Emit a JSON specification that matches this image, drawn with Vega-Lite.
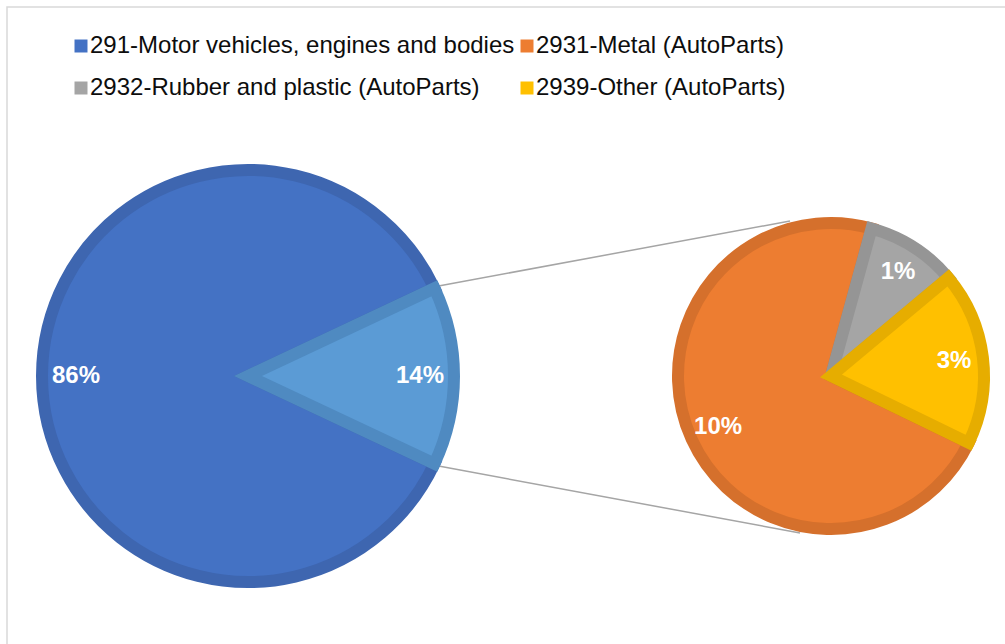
{
  "$schema": "https://vega.github.io/schema/vega-lite/v6.json",
  "width": 1000,
  "height": 639,
  "autosize": {"type": "none"},
  "padding": {"left": 7, "top": 7, "right": -2, "bottom": -2},
  "background": "white",
  "config": {
    "view": {"stroke": "#D9D9D9", "strokeWidth": 1.5},
    "font": "Liberation Sans"
  },
  "datasets": {
    "main": [
      {"category": "291-Motor vehicles, engines and bodies", "share": 0.86},
      {"category": "AutoParts (293)", "share": 0.14}
    ],
    "auto": [
      {"category": "2931-Metal (AutoParts)", "share": 0.1009},
      {"category": "2932-Rubber and plastic (AutoParts)", "share": 0.0135},
      {"category": "2939-Other (AutoParts)", "share": 0.0256}
    ]
  },
  "resolve": {"scale": {"theta": "independent"}},
  "layer": [
    {
      "data": {"values": [{}]},
      "mark": {"type": "rule", "color": "#A5A5A5", "strokeWidth": 1.5},
      "encoding": {
        "x": {"datum": 432.9, "type": "quantitative", "scale": {"domain": [0, 1000], "nice": false, "zero": false}, "axis": null},
        "y": {"datum": 278.7, "type": "quantitative", "scale": {"domain": [0, 639], "nice": false, "zero": false, "reverse": true}, "axis": null},
        "x2": {"datum": 783},
        "y2": {"datum": 214}
      }
    },
    {
      "data": {"values": [{}]},
      "mark": {"type": "rule", "color": "#A5A5A5", "strokeWidth": 1.5},
      "encoding": {
        "x": {"datum": 432.9, "type": "quantitative", "scale": {"domain": [0, 1000], "nice": false, "zero": false}, "axis": null},
        "y": {"datum": 459.3, "type": "quantitative", "scale": {"domain": [0, 639], "nice": false, "zero": false, "reverse": true}, "axis": null},
        "x2": {"datum": 793},
        "y2": {"datum": 526}
      }
    },
    {
      "data": {"name": "main"},
      "layer": [
        {
          "mark": {"type": "arc", "outerRadius": 206, "strokeWidth": 12, "strokeJoin": "miter", "strokeMiterLimit": 3},
          "encoding": {
            "x": {"datum": 241, "type": "quantitative", "scale": {"domain": [0, 1000], "nice": false, "zero": false}, "axis": null},
            "y": {"datum": 369, "type": "quantitative", "scale": {"domain": [0, 639], "nice": false, "zero": false, "reverse": true}, "axis": null},
            "theta": {"field": "share", "type": "quantitative", "stack": true, "scale": {"domain": [0, 1], "range": [2.01062, 8.29381]}},
            "order": {"field": "category", "sort": "ascending"},
            "color": {
              "field": "category", "type": "nominal",
              "scale": {
                "domain": ["291-Motor vehicles, engines and bodies", "2931-Metal (AutoParts)", "2932-Rubber and plastic (AutoParts)", "2939-Other (AutoParts)", "AutoParts (293)"],
                "range": ["#4472C4", "#ED7D31", "#A5A5A5", "#FFC000", "#5B9BD5"]
              },
              "legend": {
                "values": ["291-Motor vehicles, engines and bodies", "2931-Metal (AutoParts)", "2932-Rubber and plastic (AutoParts)", "2939-Other (AutoParts)"],
                "title": null,
                "orient": "none",
                "legendX": 62,
                "legendY": 27,
                "columns": 2,
                "direction": "horizontal",
                "symbolType": "square",
                "symbolSize": 169,
                "symbolStrokeWidth": 0,
                "labelFont": "Liberation Sans",
                "labelFontSize": 24,
                "labelColor": "#0D0D0D",
                "labelLimit": 1000,
                "labelOffset": -3,
                "columnPadding": 0,
                "rowPadding": 18
              }
            },
            "stroke": {
              "field": "category", "type": "nominal",
              "scale": {
                "domain": ["291-Motor vehicles, engines and bodies", "2931-Metal (AutoParts)", "2932-Rubber and plastic (AutoParts)", "2939-Other (AutoParts)", "AutoParts (293)"],
                "range": ["#3E66B0", "#D5702C", "#959595", "#E6AD00", "#4F8AC1"]
              },
              "legend": null
            }
          }
        },
        {
          "mark": {"type": "text", "radius": 172, "fontSize": 24, "fontWeight": "bold", "fill": "white", "align": "center", "baseline": "middle"},
          "encoding": {
            "x": {"datum": 241, "type": "quantitative", "scale": {"domain": [0, 1000], "nice": false, "zero": false}, "axis": null},
            "y": {"datum": 369, "type": "quantitative", "scale": {"domain": [0, 639], "nice": false, "zero": false, "reverse": true}, "axis": null},
            "theta": {"field": "share", "type": "quantitative", "stack": true, "scale": {"domain": [0, 1], "range": [2.01062, 8.29381]}},
            "order": {"field": "category", "sort": "ascending"},
            "detail": {"field": "category", "type": "nominal"},
            "text": {"field": "share", "type": "quantitative", "format": ".0%"}
          }
        }
      ]
    },
    {
      "data": {"name": "auto"},
      "layer": [
        {
          "mark": {"type": "arc", "outerRadius": 153, "strokeWidth": 12, "strokeJoin": "miter", "strokeMiterLimit": 3},
          "encoding": {
            "x": {"datum": 824, "type": "quantitative", "scale": {"domain": [0, 1000], "nice": false, "zero": false}, "axis": null},
            "y": {"datum": 369, "type": "quantitative", "scale": {"domain": [0, 639], "nice": false, "zero": false, "reverse": true}, "axis": null},
            "theta": {"field": "share", "type": "quantitative", "stack": true, "scale": {"domain": [0, 0.14], "range": [2.02284, 8.30603]}},
            "order": {"field": "category", "sort": "ascending"},
            "color": {"field": "category", "type": "nominal"},
            "stroke": {"field": "category", "type": "nominal", "legend": null}
          }
        },
        {
          "mark": {"type": "text", "radius": 124, "fontSize": 24, "fontWeight": "bold", "fill": "white", "align": "center", "baseline": "middle"},
          "encoding": {
            "x": {"datum": 824, "type": "quantitative", "scale": {"domain": [0, 1000], "nice": false, "zero": false}, "axis": null},
            "y": {"datum": 369, "type": "quantitative", "scale": {"domain": [0, 639], "nice": false, "zero": false, "reverse": true}, "axis": null},
            "theta": {"field": "share", "type": "quantitative", "stack": true, "scale": {"domain": [0, 0.14], "range": [2.02284, 8.30603]}},
            "order": {"field": "category", "sort": "ascending"},
            "detail": {"field": "category", "type": "nominal"},
            "text": {"field": "share", "type": "quantitative", "format": ".0%"}
          }
        }
      ]
    }
  ]
}
